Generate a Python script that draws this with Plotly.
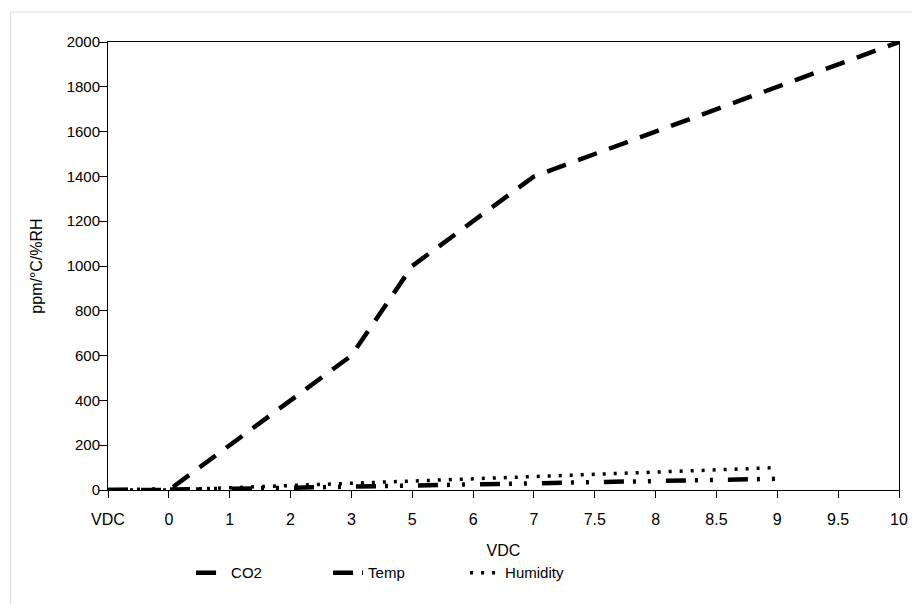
import plotly.graph_objects as go

categories = ["VDC", "0", "1", "2", "3", "5", "6", "7", "7.5", "8", "8.5", "9", "9.5", "10"]
co2 = [0, 0, 200, 400, 600, 1000, 1200, 1400, 1500, 1600, 1700, 1800, 1900, 2000]
temp = [0, 0, 5, 10, 15, 20, 25, 30, 35, 40, 45, 50]
humidity = [0, 0, 10, 20, 30, 40, 50, 60, 70, 80, 90, 100]

FONT = "Liberation Sans, Arial, sans-serif"

fig = go.Figure()

fig.add_trace(
    go.Scatter(
        x=categories,
        y=co2,
        mode="lines",
        name="CO2",
        line=dict(color="#000000", width=4.5, dash="20px,13px"),
    )
)

fig.add_trace(
    go.Scatter(
        x=categories[:len(temp)],
        y=temp,
        mode="lines",
        name="Temp",
        line=dict(color="#000000", width=4.5, dash="20px,9px,3px,12px,3px,15px"),
    )
)

fig.add_trace(
    go.Scatter(
        x=categories[:len(humidity)],
        y=humidity,
        mode="lines",
        name="Humidity",
        line=dict(color="#000000", width=3.5, dash="3px,8px"),
    )
)

# light chart-area frame (top / left edges visible)
fig.add_shape(
    type="rect",
    xref="paper", yref="paper",
    x0=-0.123, x1=1.2, y0=-0.4, y1=1.067,
    line=dict(color="#d9d9d9", width=1),
    layer="below",
)

# the page body adds an 8px offset, so the figure is sized to suit
fig.update_layout(
    width=912,
    height=596,
    margin=dict(l=100, r=15, t=34, b=114),
    paper_bgcolor="white",
    plot_bgcolor="white",
    font=dict(family=FONT, size=15, color="#000000"),
    showlegend=True,
    legend=dict(
        orientation="h",
        x=0.105,
        xanchor="left",
        y=-0.185,
        yanchor="middle",
        entrywidth=92,
        entrywidthmode="pixels",
        font=dict(size=15),
        bgcolor="rgba(0,0,0,0)",
    ),
    xaxis=dict(
        type="category",
        categoryorder="array",
        categoryarray=categories,
        range=[0, len(categories) - 1],
        showline=True,
        linecolor="#000000",
        linewidth=1,
        mirror=True,
        ticks="outside",
        ticklen=7,
        tickcolor="#000000",
        ticklabelstandoff=8,
        showgrid=False,
        zeroline=False,
        tickfont=dict(size=16),
        title=dict(text="VDC", font=dict(size=16), standoff=17),
    ),
    yaxis=dict(
        range=[0, 2000],
        dtick=200,
        showline=True,
        linecolor="#000000",
        linewidth=1,
        mirror=True,
        ticks="outside",
        ticklen=8,
        tickcolor="#000000",
        ticklabelstandoff=-4,
        showgrid=False,
        zeroline=False,
        tickfont=dict(size=15),
        title=dict(text="ppm/°C/%RH", font=dict(size=16), standoff=20),
    ),
)

fig.write_html("out.html")
